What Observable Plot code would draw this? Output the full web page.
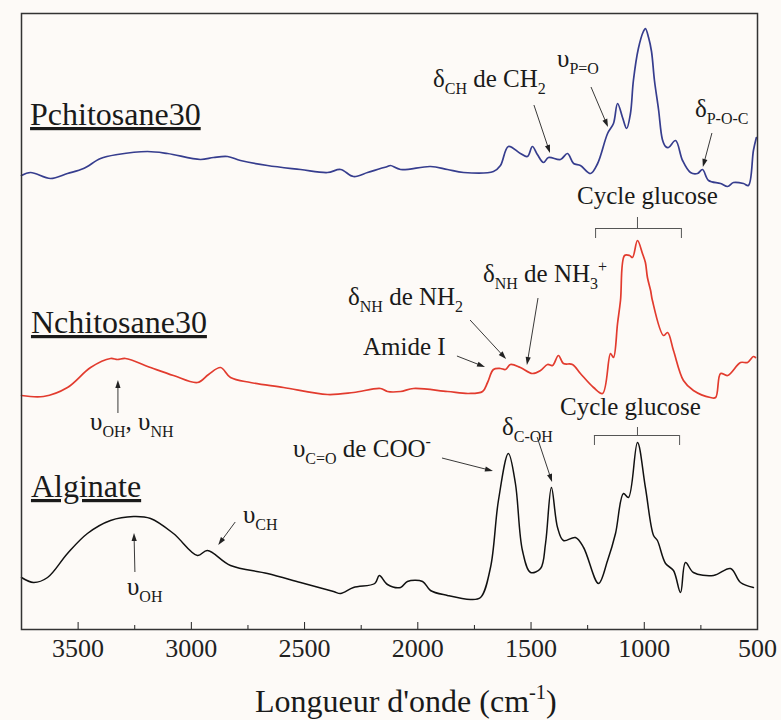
<!DOCTYPE html>
<html><head><meta charset="utf-8">
<script src="https://cdn.jsdelivr.net/npm/d3@7"></script>
<script src="https://cdn.jsdelivr.net/npm/@observablehq/plot@0.6"></script>
<style>
html,body{margin:0;padding:0;background:#fdfaf7;}
</style>
</head><body><div id="chart"></div>
<script>
// ---------- DATA (wavenumber in cm-1, intensity in arbitrary offset units) ----------
const pWn = [3750,3710,3622,3547,3476,3401,3326,3194,3105,2960,2902,2840,2783,2664,2518,2399,2341,2284,2222,2165,2134,2121,2076,1944,1869,1798,1666,1635,1600,1547,1516,1494,1472,1445,1423,1370,1339,1312,1282,1237,1206,1162,1136,1118,1096,1078,1061,1048,1026,1004,995,981,968,955,937,920,906,893,862,831,796,765,743,716,663,632,606,562,540,518,505];
const pVal = [454,457,451,456,461,471,475,478,476,470,472,473,469,464,460,457,460,453,457,461,463,464,460,463,460,457,458,464,483,476,473,483,475,467,472,470,476,466,464,456,466,496,506,526,512,501,516,549,581,598,601,592,578,549,520,490,483,482,489,469,457,456,460,449,446,443,447,446,444,479,492];

const nWn = [3750,3653,3547,3445,3357,3326,3291,3180,3079,2973,2924,2871,2827,2739,2593,2399,2284,2165,2134,2076,2019,1869,1776,1714,1692,1666,1635,1613,1591,1547,1494,1458,1427,1405,1379,1357,1317,1282,1224,1184,1149,1136,1118,1105,1087,1065,1052,1030,1008,995,986,972,964,915,897,871,827,783,708,685,663,632,575,544,518,509];
const nVal = [234,233,242,262,271,270,271,262,254,247,255,262,252,247,242,235,237,241,238,238,241,238,236,238,247,260,261,260,265,262,256,259,265,264,274,266,265,256,242,236,276,272,306,329,374,374,372,389,376,367,352,339,329,294,297,279,249,239,232,232,256,254,267,267,273,272];

const aWn = [3750,3697,3635,3547,3459,3357,3255,3180,3079,2973,2929,2827,2664,2518,2372,2341,2284,2190,2170,2134,2076,2046,1979,1944,1869,1767,1723,1679,1644,1600,1569,1538,1502,1458,1436,1410,1383,1357,1304,1268,1202,1162,1127,1092,1070,1030,995,959,942,906,871,840,818,783,694,619,575,518];
const aVal = [52,47,52,76,96,109,113,111,96,74,79,64,56,47,38,36,42,46,54,45,42,48,48,39,34,30,32,62,129,176,146,79,57,61,86,142,102,89,92,82,46,69,96,136,132,187,142,94,89,66,59,37,67,57,54,61,47,42];

const seriesNames = ["Pchitosane30", "Nchitosane30", "Alginate"];
const seriesColors = ["#363d8e", "#e23b2e", "#111111"];

const xTicks = [3500, 3000, 2500, 2000, 1500, 1000, 500];
const xMinorTicks = [3250, 2750, 2250, 1750, 1250, 750];

// sample labels
const labelText = ["Pchitosane30", "Nchitosane30", "Alginate"];
const labelWn = [3710, 3706, 3706];
const labelV = [504, 296, 132];

// peak annotations (rich text: [text, "sub"|"sup"|""])
const annParts = [
  [["δ",""],["CH","sub"],[" de CH",""],["2","sub"]],
  [["υ",""],["P=O","sub"]],
  [["δ",""],["P-O-C","sub"]],
  [["Cycle glucose",""]],
  [["δ",""],["NH","sub"],[" de NH",""],["3","sub"],["+","sup"]],
  [["δ",""],["NH","sub"],[" de NH",""],["2","sub"]],
  [["Amide I",""]],
  [["υ",""],["OH","sub"],[", υ",""],["NH","sub"]],
  [["υ",""],["C=O","sub"],[" de COO",""],["-","sup"]],
  [["δ",""],["C-OH","sub"]],
  [["Cycle glucose",""]],
  [["υ",""],["CH","sub"]],
  [["υ",""],["OH","sub"]]
];
const annWn = [1931, 1383, 774, 1295, 1710, 2306, 2240, 3445, 2549, 1626, 1370, 2770, 3282];
const annV  = [542, 562, 512, 425, 347, 324, 274, 199, 172, 194, 214, 106, 34];

// arrows (from -> to)
const arrX1 = [1485, 1233, 699, 1467, 1767, 1825, 3322, 1891, 1471, 2804, 3247];
const arrY1 = [524, 542, 496, 331, 309, 273, 216, 171, 192, 107, 57];
const arrX2 = [1414, 1158, 739, 1516, 1608, 1701, 3322, 1666, 1405, 2879, 3251];
const arrY2 = [476, 502, 462, 264, 270, 262, 249, 158, 147, 84, 96];

// "Cycle glucose" brackets
const brCenter = [1030, 1030];
const brLo = [1215, 1220];
const brHi = [836, 844];
const brTop = [412, 202];
const brBar = [401, 194];
const brEnd = [391, 184];

const axisTitleParts = [["Longueur d'onde (cm",""],["-1","sup"],[")",""]];
const axisTitleWn = 2717;
const axisTitleV = -83;

// ---------- BUILD ----------
const fontFamily = "'Liberation Serif','Times New Roman',serif";
const toRows = (wn, val) => wn.map((w, i) => ({wn: w, v: val[i]}));
const specP = toRows(pWn, pVal), specN = toRows(nWn, nVal), specA = toRows(aWn, aVal);
const brackets = brCenter.map((c, i) => ({c, lo: brLo[i], hi: brHi[i], top: brTop[i], bar: brBar[i], end: brEnd[i]}));

const plot = Plot.plot({
  width: 781, height: 720,
  marginLeft: 21, marginRight: 24, marginTop: 13, marginBottom: 91,
  style: {background: "#fdfaf7", fontFamily, color: "#222", overflow: "visible"},
  x: {domain: [3750, 500]},
  y: {domain: [0, 616], axis: null},
  marks: [
    Plot.line(specP, {x: "wn", y: "v", stroke: seriesColors[0], strokeWidth: 1.7, curve: "catmull-rom"}),
    Plot.line(specN, {x: "wn", y: "v", stroke: seriesColors[1], strokeWidth: 1.7, curve: "catmull-rom"}),
    Plot.line(specA, {x: "wn", y: "v", stroke: seriesColors[2], strokeWidth: 1.5, curve: "catmull-rom"}),
    Plot.ruleY(brackets, {y: "bar", x1: "lo", x2: "hi", stroke: "#555", strokeWidth: 1}),
    Plot.ruleX(brackets, {x: "c", y1: "top", y2: "bar", stroke: "#555", strokeWidth: 1}),
    Plot.ruleX(brackets, {x: "lo", y1: "bar", y2: "end", stroke: "#555", strokeWidth: 1}),
    Plot.ruleX(brackets, {x: "hi", y1: "bar", y2: "end", stroke: "#555", strokeWidth: 1}),
    Plot.ruleX(xTicks, {x: d => d, y1: 0, y2: 7, stroke: "#222", strokeWidth: 1}),
    Plot.ruleX(xMinorTicks, {x: d => d, y1: 0, y2: 4, stroke: "#222", strokeWidth: 1}),
    Plot.axisX({ticks: xTicks, tickSize: 0, tickPadding: 9, fontSize: 26, tickFormat: d => String(d), label: null}),
    Plot.frame({stroke: "#333", strokeWidth: 1.5})
  ]
});

const sx = plot.scale("x"), sy = plot.scale("y");
const svg = d3.select(plot);

// annotation arrows with filled heads, positioned through the plot's scales
const ga = svg.append("g").attr("stroke", "#222").attr("fill", "#222");
arrX1.forEach((x1, i) => {
  const ax = sx.apply(x1), ay = sy.apply(arrY1[i]);
  const bx = sx.apply(arrX2[i]), by = sy.apply(arrY2[i]);
  const L = Math.hypot(bx - ax, by - ay), ux = (bx - ax) / L, uy = (by - ay) / L;
  const hl = 8, hw = 2.6;
  ga.append("line").attr("x1", ax).attr("y1", ay).attr("x2", bx - ux * (hl - 1)).attr("y2", by - uy * (hl - 1))
    .attr("stroke-width", 0.9);
  const bxh = bx - ux * hl, byh = by - uy * hl;
  ga.append("polygon").attr("stroke", "none")
    .attr("points", [[bx, by], [bxh - uy * hw, byh + ux * hw], [bxh + uy * hw, byh - ux * hw]].map(p => p.join(",")).join(" "));
});

const g = svg.append("g").attr("font-family", fontFamily).attr("fill", "#1a1a1a").attr("text-anchor", "start");

function richText(parts, wn, v, size, extra) {
  const t = g.append("text").attr("x", sx.apply(wn)).attr("y", sy.apply(v)).attr("font-size", size).attr("text-anchor", "start");
  if (extra) extra(t);
  let shift = 0;
  for (const [s, mode] of parts) {
    const target = mode === "sub" ? 0.28 * size : mode === "sup" ? -0.42 * size : 0;
    const ts = t.append("tspan").attr("dy", target - shift).text(s);
    if (mode) ts.attr("font-size", size * 0.64);
    shift = target;
  }
  return t;
}

labelText.forEach((s, i) => richText([[s, ""]], labelWn[i], labelV[i], 32, t => t.attr("text-decoration", "underline")));
annParts.forEach((p, i) => richText(p, annWn[i], annV[i], 25));
richText(axisTitleParts, axisTitleWn, axisTitleV, 32);

document.getElementById("chart").appendChild(plot);
</script>
</body></html>
